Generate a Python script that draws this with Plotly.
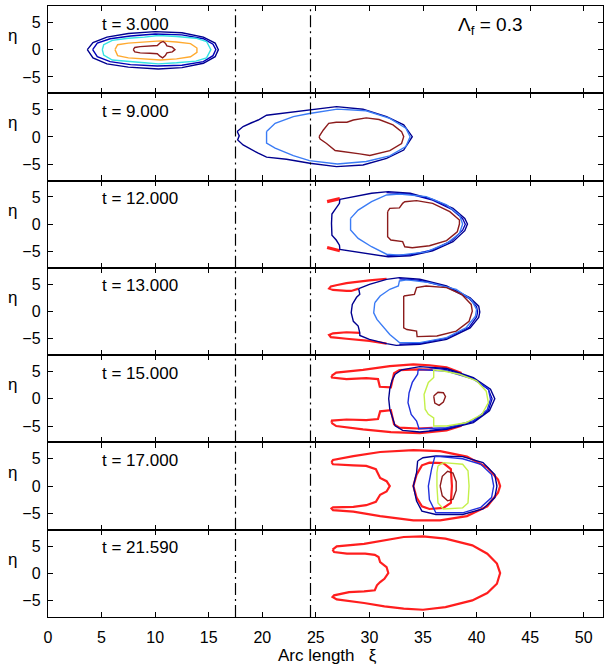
import plotly.graph_objects as go
from plotly.subplots import make_subplots

# ---------------- data ----------------
TIME_LABELS = ["t = 3.000", "t = 9.000", "t = 12.000", "t = 13.000",
               "t = 15.000", "t = 17.000", "t = 21.590"]
X_TICKS = [0, 5, 10, 15, 20, 25, 30, 35, 40, 45, 50]
Y_TICKS = [-5, 0, 5]
DASH_X = [17.5, 24.5]
X_RANGE = [0, 51.8]
Y_RANGE = [-8, 8]
PARAM_LABEL = "Λ<sub>f</sub> = 0.3"
X_TITLE = "Arc length   ξ"
Y_TITLE = "η"

# t = 3
T1_NAVY_A = [(3.67,0.0),(4.2,1.3),(5.5,2.3),(7.5,2.95),(10.0,3.3),(12.5,3.1),(14.5,2.3),(15.6,1.2),(15.9,0.0),
             (15.6,-1.3),(14.5,-2.5),(12.5,-3.3),(10.3,-3.56),(7.5,-3.2),(5.5,-2.6),(4.2,-1.5),(3.67,0.0)]
T1_NAVY_B = [(4.17,0.0),(4.6,1.2),(5.8,2.0),(7.7,2.5),(10.0,2.86),(12.5,2.7),(14.5,2.0),(15.4,1.0),(15.67,0.0),
             (15.4,-1.1),(14.5,-2.2),(12.5,-2.85),(10.2,-3.0),(7.7,-2.75),(5.8,-2.2),(4.6,-1.3),(4.17,0.0)]
T1_CYAN = [(5.07,0.0),(5.2,0.9),(6.0,1.7),(7.5,2.1),(9.0,2.3),(10.3,2.6),(12.0,2.4),(13.8,2.1),(14.8,1.5),(15.2,0.0),
           (14.8,-1.5),(13.8,-2.1),(12.0,-2.4),(10.3,-2.6),(9.0,-2.4),(7.5,-2.2),(6.0,-1.9),(5.2,-1.0),(5.07,0.0)]
T1_ORANGE = [(6.25,0.0),(6.5,0.9),(7.5,1.2),(9.0,1.35),(10.5,1.6),(12.0,1.4),(13.3,1.1),(13.9,0.3),(13.9,-0.5),
             (13.3,-1.3),(12.0,-1.7),(10.5,-1.9),(9.0,-1.7),(7.5,-1.5),(6.5,-1.1),(6.25,0.0)]
T1_DARKRED = [(7.96,0.0),(8.1,0.4),(8.6,0.55),(9.5,0.6),(10.2,0.75),(10.5,1.3),(10.75,1.5),(10.95,1.2),(11.1,0.7),
              (11.6,0.45),(11.85,0.0),(11.6,-0.4),(11.1,-0.6),(10.95,-1.1),(10.7,-1.5),(10.45,-1.2),(10.2,-0.75),
              (9.5,-0.65),(8.6,-0.6),(8.1,-0.4),(7.96,0.0)]

# t = 9
T2_NAVY = [(17.66,1.0),(18.21,1.9),(19.0,2.6),(19.62,3.1),(20.4,3.98),(22.26,4.46),(24.44,4.95),(26.93,5.56),
           (29.4,5.07),(31.6,3.73),(33.2,2.2),(34.0,0.05),(33.2,-2.4),(31.6,-3.92),(29.4,-5.14),(26.93,-5.44),
           (24.44,-4.83),(22.26,-4.1),(20.4,-3.7),(19.62,-2.99),(18.21,-1.47),(17.7,-0.55),(17.85,0.2),(17.66,1.0)]
T2_BLUE = [(20.4,0.98),(21.2,2.5),(22.9,3.73),(24.4,4.3),(27.0,5.1),(29.7,4.8),(31.9,3.4),(33.4,1.6),(33.8,0.05),
           (33.4,-1.77),(31.9,-3.48),(29.7,-4.5),(27.0,-4.96),(24.4,-4.35),(22.9,-3.42),(21.2,-2.05),(20.4,-1.15),
           (20.4,0.98)]
T2_DARKRED = [(25.3,0.05),(25.7,1.28),(26.2,2.5),(26.9,2.7),(27.9,2.7),(28.5,3.1),(29.7,3.5),(30.9,3.2),(32.2,2.2),
              (33.0,0.98),(33.2,0.05),(33.0,-1.2),(31.9,-2.5),(30.04,-3.4),(29.1,-3.1),(27.9,-2.8),(26.8,-2.5),
              (26.0,-1.2),(25.4,-0.4),(25.3,0.05)]

# t = 12
T3_NAVY = [(27.24,4.56),(28.95,5.18),(30.2,5.67),(31.75,5.97),(33.8,5.67),(35.9,4.56),(37.8,2.9),(38.9,1.07),
           (39.15,0.03),(38.9,-1.19),(37.8,-3.2),(35.9,-4.87),(33.8,-5.79),(31.75,-5.97),(30.2,-5.5),(28.95,-5.24),
           (27.24,-4.63),(27.2,-3.83),(26.9,-2.9),(26.5,-2.0),(26.46,0.15),(26.5,1.87),(26.9,2.9),(27.2,3.83),
           (27.24,4.56)]
T3_NAVY_B = [(31.6,5.8),(33.8,5.5),(35.9,4.4),(37.7,2.7),(38.7,1.0),(38.95,0.0),(38.7,-1.1),(37.7,-3.0),
             (35.9,-4.7),(33.8,-5.6),(31.6,-5.8)]
T3_BLUE = [(28.24,1.07),(28.95,2.6),(30.2,4.13),(31.6,5.36),(32.8,5.55),(35.3,5.06),(37.2,3.53),(38.4,1.69),
           (38.7,0.03),(38.4,-1.69),(37.2,-3.53),(35.3,-5.06),(32.8,-5.67),(31.6,-5.5),(30.2,-4.13),(28.95,-2.6),
           (28.24,-1.07),(28.24,1.07)]
T3_DARKRED = [(31.7,2.3),(31.9,2.9),(32.8,3.0),(33.1,3.83),(33.3,4.13),(34.4,4.32),(35.9,3.83),(37.5,2.3),
              (38.4,0.77),(38.4,0.03),(38.2,-1.38),(37.2,-3.0),(35.6,-3.95),(34.0,-4.32),(33.3,-4.13),(33.1,-3.2),
              (32.0,-2.9),(31.7,-2.3),(31.7,2.3)]
T3_RED_TOP = [(26.05,4.13),(27.24,4.68)]
T3_RED_BOT = [(26.05,-4.26),(27.24,-4.87)]

# t = 13
T4_RED_TOP = [(29.0,4.19),(28.3,3.77),(27.86,3.77),(26.6,3.95),(26.24,4.2),(26.4,4.6),(27.0,4.85),(27.86,5.2),
              (30.0,5.72),(31.6,6.0)]
T4_RED_BOT = [(29.1,-3.9),(28.3,-3.8),(27.86,-3.8),(26.6,-4.0),(26.24,-4.3),(26.4,-4.7),(27.0,-4.85),(27.86,-5.0),
              (30.0,-5.4),(31.6,-5.9)]
T4_NAVY = [(29.0,4.19),(30.0,4.98),(31.6,5.9),(32.8,6.2),(34.7,5.9),(37.2,4.68),(39.4,2.5),(40.2,0.98),(40.3,-0.1),
           (40.2,-1.1),(39.4,-3.0),(37.2,-5.1),(34.7,-6.0),(32.5,-6.2),(31.6,-5.9),(30.0,-5.1),(29.1,-4.4),
           (29.1,-3.9),(28.95,-2.67),(28.5,-1.8),(28.3,-0.2),(28.4,1.3),(28.8,2.6),(29.1,3.15),(29.0,4.19)]
T4_NAVY_B = [(32.8,6.0),(34.7,5.7),(37.2,4.5),(39.3,2.4),(40.0,0.9),(40.1,-0.1),(40.0,-1.0),(39.3,-2.9),
             (37.2,-4.9),(34.7,-5.85),(32.8,-6.0)]
T4_BLUE = [(30.5,1.6),(30.4,-0.25),(30.7,-1.45),(31.9,-4.2),(32.8,-5.7),(34.7,-5.7),(37.2,-4.8),(39.0,-3.0),
           (39.9,-0.86),(40.0,0.37),(39.5,2.2),(38.1,4.07),(35.6,5.3),(33.5,5.8),(32.8,5.6),(32.7,4.68),(31.9,4.07),
           (31.0,2.85),(30.5,1.6)]
T4_DARKRED = [(33.2,2.85),(34.2,3.15),(34.4,4.38),(35.3,4.68),(37.2,4.38),(38.6,3.15),(39.5,1.3),(39.6,0.06),
              (39.3,-1.8),(38.1,-3.6),(36.3,-4.5),(34.45,-4.6),(34.4,-3.6),(33.5,-3.3),(33.2,-3.0),(33.2,2.85)]

# t = 15
T5_RED_TOP = [(26.46,4.2),(26.9,4.8),(29.4,5.3),(31.9,6.0),(34.1,6.3),(35.6,6.15),(37.2,5.75),(38.6,4.7)]
T5_RED_BOTTOM = [(26.46,-4.4),(26.9,-5.0),(29.4,-5.6),(32.0,-6.1),(34.7,-6.3),(37.2,-5.8),(38.6,-4.95)]
T5_RED_UPPER = [(26.46,4.2),(26.5,3.9),(27.86,3.6),(29.7,3.8),(30.8,3.6),(30.97,2.2),(32.0,2.1),(32.2,3.6),
                (32.3,4.7),(32.8,5.25),(34.5,5.4),(35.9,5.35)]
T5_RED_LOWER = [(26.46,-4.4),(26.5,-4.0),(27.86,-3.8),(29.7,-3.9),(30.8,-3.7),(31.0,-2.3),(32.0,-2.1),
                (32.2,-3.6),(32.3,-4.7),(32.8,-5.3),(34.5,-5.45),(35.9,-5.35)]
T5_NAVY = [(32.4,4.5),(33.0,5.3),(34.7,5.9),(37.2,5.55),(39.7,3.9),(41.3,1.75),(41.7,0.0),(41.2,-2.2),(39.7,-4.36),
           (37.2,-5.6),(34.7,-6.1),(33.1,-5.8),(32.4,-4.97),(32.2,-3.75),(31.9,-1.9),(31.8,0.0),(31.9,1.8),
           (32.1,3.3),(32.4,4.5)]
T5_NAVY_B = [(35.6,5.7),(37.2,5.35),(39.7,3.75),(41.1,1.7),(41.45,0.0),(41.1,-2.1),(39.7,-4.2),(37.2,-5.45),
             (35.6,-5.8)]
T5_BLUE = [(34.55,5.36),(37.2,5.1),(39.7,3.6),(41.1,1.8),(41.3,-0.1),(41.0,-2.0),(39.7,-4.0),(37.2,-5.3),
           (34.6,-5.5),(34.6,-5.3),(34.4,-4.07),(33.9,-2.85),(33.6,-0.7),(33.7,1.1),(34.0,3.0),(34.5,4.5),
           (34.55,5.36)]
T5_YGREEN = [(36.0,5.3),(36.9,5.1),(38.4,4.5),(40.0,3.3),(40.9,1.4),(41.1,-0.7),(40.5,-2.85),(39.0,-4.4),
             (37.2,-5.0),(36.0,-5.0),(36.0,-3.5),(35.5,-2.85),(35.2,-1.9),(35.1,0.8),(35.5,3.0),(36.0,3.9),
             (36.0,5.3)]
T5_DARKRED = [(36.0,0.5),(36.4,1.2),(36.9,1.1),(37.1,0.4),(36.9,-0.6),(36.5,-1.2),(36.1,-0.8),(36.0,0.5)]

# t = 17
T6_RED_OUTER = [(26.46,4.4),(26.6,4.8),(28.5,5.5),(31.0,6.25),(34.1,6.6),(36.6,6.4),(39.1,5.4),(41.0,3.4),
                (42.0,1.2),(42.2,0.0),(42.0,-1.2),(41.0,-3.7),(39.1,-5.5),(36.6,-6.3),(34.1,-6.3),(31.0,-5.5),
                (28.5,-4.7),(26.6,-4.4),(26.46,-4.1),(26.6,-3.9),(28.5,-3.8),(29.7,-3.5),(30.6,-2.9),(31.0,-1.6),
                (31.6,-1.0),(31.9,0.0),(31.6,0.9),(31.0,1.5),(30.6,3.1),(29.7,3.7),(28.5,3.8),(26.6,4.0),(26.46,4.4)]
T6_RED_INNER = [(34.4,2.1),(34.1,0.0),(34.4,-2.1),(34.9,-3.7),(35.6,-4.2),(36.9,-4.0),(37.6,-3.1),(37.7,0.0),
                (37.6,3.1),(36.9,4.2),(35.6,4.3),(34.9,3.8),(34.4,2.1)]
T6_NAVY = [(34.5,4.6),(34.4,2.45),(34.1,0.0),(34.4,-2.75),(34.9,-4.6),(36.2,-5.2),(38.7,-5.2),(40.6,-4.2),
           (41.7,-2.1),(41.9,0.0),(41.7,2.1),(40.6,4.3),(38.7,5.4),(36.2,5.5),(35.0,5.2),(34.5,4.6)]
T6_BLUE = [(36.1,5.4),(35.8,3.1),(35.5,0.0),(35.6,-2.5),(36.2,-4.9),(38.7,-4.9),(40.4,-3.9),(41.4,-2.1),
           (41.6,0.0),(41.4,2.1),(40.4,4.0),(38.7,5.0),(36.6,5.4),(36.1,5.4)]
T6_YGREEN = [(36.4,3.7),(36.9,4.3),(38.7,4.0),(39.2,2.8),(39.3,0.0),(39.2,-3.1),(38.7,-4.0),(36.9,-4.2),
             (36.4,-3.1),(36.3,0.0),(36.3,2.45),(36.4,3.7)]
T6_DARKRED = [(36.6,0.0),(36.8,1.8),(37.3,2.7),(37.8,2.4),(38.1,0.8),(38.1,-0.8),(37.8,-2.4),(37.3,-2.7),
              (36.8,-1.8),(36.6,0.0)]

# t = 21.59
T7_RED = [(26.56,4.34),(26.95,4.95),(29.5,5.4),(31.4,6.06),(33.2,6.66),(35.0,6.79),(37.1,6.36),(39.6,5.14),
          (41.0,3.6),(41.9,1.8),(42.2,0.06),(41.9,-1.9),(41.0,-3.6),(39.6,-4.95),(37.1,-6.18),(35.0,-6.67),
          (33.2,-6.48),(31.4,-6.06),(29.5,-5.44),(26.95,-4.77),(26.56,-4.34),(26.7,-4.03),(28.1,-3.43),
          (29.5,-3.3),(30.5,-3.1),(30.7,-2.2),(31.0,-1.6),(31.4,-1.0),(31.76,0.06),(31.6,1.16),(31.0,2.08),
          (30.85,3.0),(30.5,3.4),(29.6,3.6),(27.9,3.6),(26.7,3.9),(26.56,4.34)]

# ---------------- styles ----------------
NAVY = "#00008f"
NAVY2 = "#0000b8"
LBLUE = "#3b7cf5"
MBLUE = "#2030dd"
CYAN = "#35e2e2"
ORANGE = "#ffaa30"
YGREEN = "#c4f04a"
DKRED = "#8c1c1c"
RED = "#ff1e1e"

LAYERS = [
    (1, T1_NAVY_A, NAVY, 1.4), (1, T1_NAVY_B, NAVY2, 1.4), (1, T1_CYAN, CYAN, 1.4),
    (1, T1_ORANGE, ORANGE, 1.4), (1, T1_DARKRED, DKRED, 1.4),
    (2, T2_NAVY, NAVY, 1.4), (2, T2_BLUE, LBLUE, 1.4), (2, T2_DARKRED, DKRED, 1.4),
    (3, T3_RED_TOP, RED, 3.2), (3, T3_RED_BOT, RED, 3.2),
    (3, T3_NAVY, NAVY, 1.4), (3, T3_NAVY_B, NAVY2, 1.3), (3, T3_BLUE, LBLUE, 1.4), (3, T3_DARKRED, DKRED, 1.4),
    (4, T4_RED_TOP, RED, 2.2), (4, T4_RED_BOT, RED, 2.2),
    (4, T4_NAVY, NAVY, 1.4), (4, T4_NAVY_B, NAVY2, 1.3), (4, T4_BLUE, LBLUE, 1.4), (4, T4_DARKRED, DKRED, 1.4),
    (5, T5_RED_TOP, RED, 2.2), (5, T5_RED_BOTTOM, RED, 2.2), (5, T5_RED_UPPER, RED, 2.2),
    (5, T5_RED_LOWER, RED, 2.2),
    (5, T5_NAVY, NAVY, 1.4), (5, T5_NAVY_B, NAVY2, 1.3), (5, T5_BLUE, MBLUE, 1.4), (5, T5_YGREEN, YGREEN, 1.4),
    (5, T5_DARKRED, DKRED, 1.4),
    (6, T6_RED_OUTER, RED, 2.2), (6, T6_RED_INNER, RED, 2.2),
    (6, T6_NAVY, NAVY, 1.4), (6, T6_BLUE, MBLUE, 1.4), (6, T6_YGREEN, YGREEN, 1.4), (6, T6_DARKRED, DKRED, 1.4),
    (7, T7_RED, RED, 2.2),
]

FONT = "Liberation Sans, Arial, Helvetica, sans-serif"
NROWS = len(TIME_LABELS)

fig = make_subplots(rows=NROWS, cols=1, shared_xaxes=True, vertical_spacing=0)

for row, pts, color, width in LAYERS:
    fig.add_trace(go.Scatter(x=[p[0] for p in pts], y=[p[1] for p in pts], mode="lines",
                             line=dict(color=color, width=width), showlegend=False,
                             hoverinfo="skip"), row=row, col=1)

for r in range(1, NROWS + 1):
    for xv in DASH_X:
        fig.add_trace(go.Scatter(x=[xv, xv], y=Y_RANGE, mode="lines",
                                 line=dict(color="black", width=1.2, dash="12px,4px,2px,4px"),
                                 showlegend=False, hoverinfo="skip"), row=r, col=1)

axis_common = dict(ticks="inside", ticklen=5, tickwidth=1, tickcolor="black", showline=True,
                   mirror="ticks", linecolor="black", linewidth=1.4, showgrid=False, zeroline=False,
                   tickfont=dict(family=FONT, size=16, color="black"))
fig.update_xaxes(range=X_RANGE, tickvals=X_TICKS, **axis_common)
fig.update_yaxes(range=Y_RANGE, tickvals=Y_TICKS, ticklabelstandoff=3, **axis_common)
fig.update_xaxes(ticklabelstandoff=6, row=NROWS, col=1)

annotations = []
for i, lab in enumerate(TIME_LABELS):
    k = i + 1
    ax = "" if k == 1 else str(k)
    annotations.append(dict(text=lab, x=4.85, y=4.7, xref="x" + ax, yref="y" + ax, xanchor="left",
                            yanchor="middle", showarrow=False, font=dict(family=FONT, size=17, color="black")))
    annotations.append(dict(text=Y_TITLE, x=-0.064, y=0.66, xref="paper", yref="y" + ax + " domain",
                            xanchor="center", yanchor="middle", showarrow=False,
                            font=dict(family=FONT, size=17, color="black")))
annotations.append(dict(text=PARAM_LABEL, x=38.1, y=4.4, xref="x", yref="y", xanchor="left", yanchor="middle",
                        showarrow=False, font=dict(family=FONT, size=19, color="black")))
annotations.append(dict(text=X_TITLE, x=0.503, y=-0.063, xref="paper", yref="paper", xanchor="center",
                        yanchor="middle", showarrow=False, font=dict(family=FONT, size=17, color="black")))

fig.update_layout(width=604, height=669, margin=dict(l=48, r=1, t=6, b=52),
                  plot_bgcolor="white", paper_bgcolor="white", showlegend=False,
                  annotations=annotations, font=dict(family=FONT, color="black"))

fig.write_html("out.html", config={"displayModeBar": False},
               post_script="document.body.style.margin='0px';document.body.style.overflow='hidden';")
